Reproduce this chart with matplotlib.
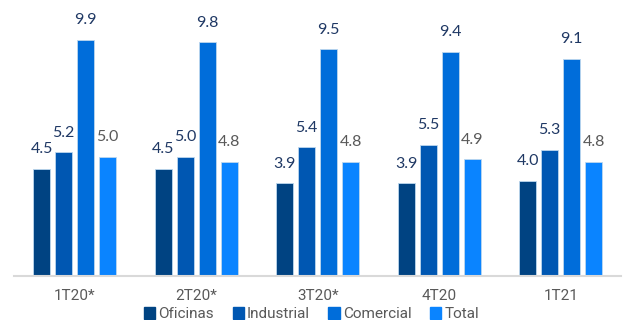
import matplotlib
matplotlib.use("Agg")
import matplotlib.pyplot as plt
from matplotlib.patches import Rectangle
import numpy as np

periods = ["1T20*", "2T20*", "3T20*", "4T20", "1T21"]
series_names = ["Oficinas", "Industrial", "Comercial", "Total"]
oficinas = [4.5, 4.5, 3.9, 3.9, 4.0]
industrial = [5.2, 5.0, 5.4, 5.5, 5.3]
comercial = [9.9, 9.8, 9.5, 9.4, 9.1]
total = [5.0, 4.8, 4.8, 4.9, 4.8]

colors = ["#004382", "#0057B2", "#006DDA", "#0A84FF"]
label_colors = ["#1F3864", "#1F3864", "#1F3864", "#595959"]

fig = plt.figure(figsize=(6.23, 3.2), dpi=100)
ax = fig.add_axes([0.0225, 0.136, 0.975, 0.822])

x = np.arange(len(periods))
pitch = 0.181
width = 0.14
data = [oficinas, industrial, comercial, total]
for i, (vals, col, lcol) in enumerate(zip(data, colors, label_colors)):
    xs = x + (i - 1.5) * pitch
    bars = ax.bar(xs, vals, width=width, color=col, edgecolor="#BDD7EE",
                  linewidth=0.6, zorder=2)
    for b, v in zip(bars, vals):
        ax.annotate(f"{v:.1f}", (b.get_x() + b.get_width() / 2, v),
                    xytext=(0, 9), textcoords="offset points",
                    ha="center", va="bottom", fontsize=11.5,
                    color=lcol, family="Lato")

ax.set_xlim(-0.5, 4.5)
ax.set_ylim(0, 11)
ax.set_yticks([])
for s in ["top", "right", "left"]:
    ax.spines[s].set_visible(False)
ax.spines["bottom"].set_color("#D9D9D9")
ax.spines["bottom"].set_linewidth(1.5)
ax.set_xticks(x)
ax.set_xticklabels(periods, fontsize=11, color="#595959", family="Roboto")
ax.tick_params(axis="x", length=0, pad=9)

handles = [Rectangle((0, 0), 1, 1, color=c) for c in colors]
leg = fig.legend(handles, series_names, loc="center", bbox_to_anchor=(0.5, 0.018),
                 ncol=4, frameon=False, handlelength=0.75, handleheight=0.75,
                 handletextpad=0.2, columnspacing=1.2,
                 prop={"family": "Roboto", "size": 11})
for t in leg.get_texts():
    t.set_color("#595959")

fig.savefig("out.png", dpi=100)
